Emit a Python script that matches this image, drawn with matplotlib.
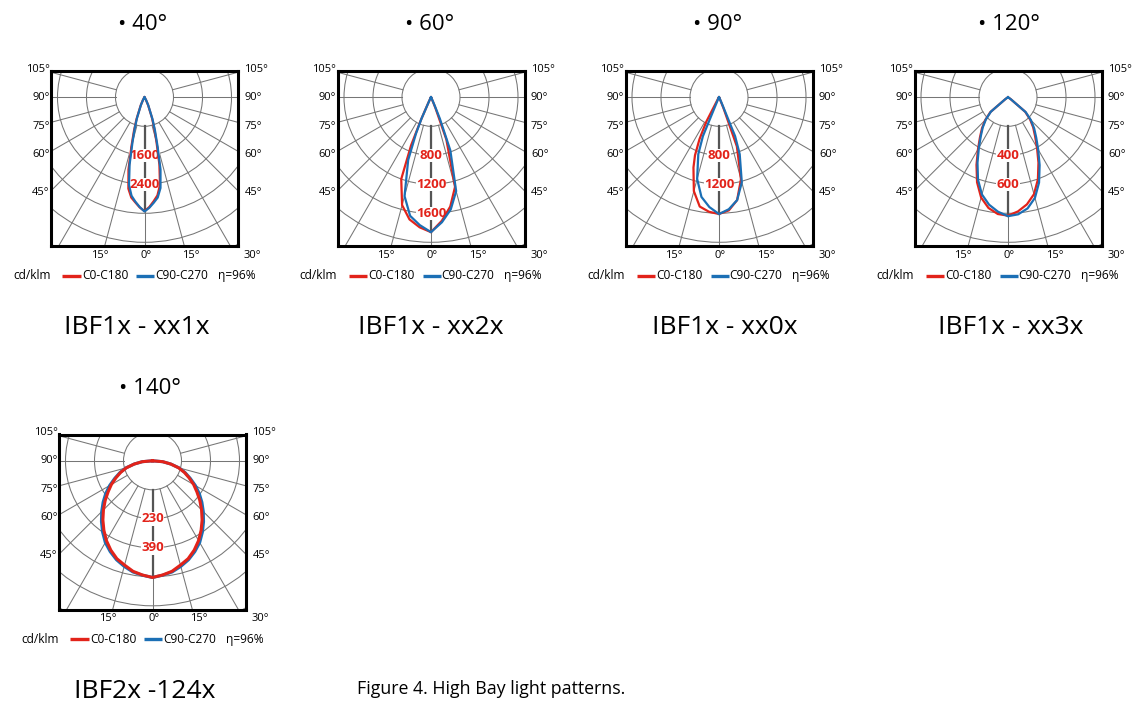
import numpy as np
import matplotlib.pyplot as plt
from matplotlib.patches import Circle

plt.rcParams['font.family'] = ['Open Sans', 'DejaVu Sans']

# =========================
# DATA  (cd/klm, half-angle from nadir, left / right half of each plane)
# =========================

P1_ANG = [0, 2.5, 5, 7.5, 10, 12.5, 15, 17.5, 20, 25, 30, 40, 90]
P1_C0_L = [3140, 3040, 2910, 2790, 2560, 2040, 1380, 960, 650, 250, 85, 15, 0]
P1_C0_R = [3140, 3030, 2880, 2730, 2460, 1900, 1280, 890, 600, 230, 75, 15, 0]
P1_C90_L = [3150, 3030, 2890, 2740, 2460, 1900, 1280, 890, 600, 230, 75, 15, 0]
P1_C90_R = [3150, 3050, 2920, 2790, 2540, 2040, 1380, 960, 650, 250, 85, 15, 0]
P1_STEP = 800
P1_RINGS = ["1600", "2400"]

P2_ANG = [0, 5, 10, 15, 20, 22.5, 24, 26, 30, 40, 90]
P2_C0_L = [1860, 1800, 1710, 1540, 1200, 720, 340, 80, 20, 8, 0]
P2_C0_R = [1860, 1710, 1530, 1280, 620, 160, 60, 20, 8, 4, 0]
P2_C90_L = [1860, 1770, 1660, 1410, 920, 540, 320, 60, 20, 8, 0]
P2_C90_R = [1860, 1730, 1570, 1340, 780, 320, 120, 40, 16, 8, 0]
P2_STEP = 400
P2_RINGS = ["800", "1200", "1600"]

P3_ANG = [0, 5, 10, 15, 20, 22.5, 25, 27.5, 30, 40, 90]
P3_C0_L = [1610, 1585, 1530, 1340, 1030, 865, 635, 380, 50, 12, 0]
P3_C0_R = [1610, 1565, 1440, 1170, 720, 160, 40, 20, 10, 4, 0]
P3_C90_L = [1610, 1520, 1395, 1165, 835, 580, 40, 30, 15, 4, 0]
P3_C90_R = [1610, 1550, 1440, 1215, 835, 580, 80, 30, 15, 4, 0]
P3_STEP = 400
P3_RINGS = ["800", "1200"]

P4_ANG = [0, 5, 10, 15, 20, 25, 30, 35, 40, 45, 50, 55, 60, 90]
P4_C0_L = [816, 808, 775, 716, 624, 514, 414, 337, 279, 222, 159, 24, 8, 0]
P4_C0_R = [816, 790, 750, 692, 603, 497, 400, 325, 270, 215, 154, 24, 8, 0]
P4_C90_L = [820, 792, 752, 694, 605, 498, 402, 327, 271, 216, 154, 24, 8, 0]
P4_C90_R = [820, 810, 778, 718, 626, 516, 416, 339, 281, 224, 160, 26, 8, 0]
P4_STEP = 200
P4_RINGS = ["400", "600"]

P5_ANG = [0, 5, 10, 15, 20, 25, 30, 35, 40, 45, 50, 55, 60, 65, 70, 75, 80, 85, 90]
P5_C0_L = [523, 514, 503, 484, 467, 442, 413, 380, 346, 311, 277, 243, 213, 181, 152, 121, 83, 46, 0]
P5_C0_R = P5_C0_L  # symmetric
P5_C90_L = [523, 515, 506, 490, 472, 449, 423, 390, 356, 322, 289, 256, 222, 187, 156, 124, 83, 46, 0]
P5_C90_R = P5_C90_L
P5_STEP = 130
P5_RINGS = ["230", "390"]

BEAMS = ["• 40°", "• 60°", "• 90°", "• 120°", "• 140°"]
MODELS = ["IBF1x - xx1x", "IBF1x - xx2x", "IBF1x - xx0x", "IBF1x - xx3x", "IBF2x -124x"]

SIDE_LABELS = ["105°", "90°", "75°", "60°", "45°"]
BOTTOM_LABELS = ["15°", "0°", "15°", "30°"]
LEGEND = ["cd/klm", "C0-C180", "C90-C270", "η=96%"]
CAPTION = "Figure 4. High Bay light patterns."

# =========================
# STYLE / LAYOUT
# =========================

W, H = 1133, 704
UNIT = 29.0          # px per ring
BOX_W, BOX_H = 187, 175
TOP_GAP = 26.3       # px from box top to pole
RED = "#e2231a"
BLUE = "#1b6fb5"
GRID = "#767676"

fig = plt.figure(figsize=(W / 100, H / 100), dpi=100)


def half_to_xy(angles, left, right, step):
    a = np.radians(angles)
    l = np.asarray(left, float) / step
    r = np.asarray(right, float) / step
    x = np.concatenate([(-l * np.sin(a))[::-1], r * np.sin(a)])
    y = np.concatenate([(-l * np.cos(a))[::-1], -r * np.cos(a)])
    return x, y


def draw_panel(left, top, angles, c0, c90, step, rings, red_on_top=False, lw=1.6):
    ax = fig.add_axes([left / W, 1 - (top + BOX_H) / H, BOX_W / W, BOX_H / H])
    hw = BOX_W / 2 / UNIT
    ax.set_xlim(-hw, hw)
    ax.set_ylim(-(BOX_H - TOP_GAP) / UNIT, TOP_GAP / UNIT)
    ax.set_xticks([])
    ax.set_yticks([])
    for s in ax.spines.values():
        s.set_linewidth(2.2)
        s.set_zorder(10)

    # grid
    for r in range(1, 8):
        ax.add_patch(Circle((0, 0), r, fill=False, ec=GRID, lw=0.75, zorder=1))
    for a in range(-105, 106, 15):
        t = np.radians(a)
        ax.plot([np.sin(t), 9 * np.sin(t)], [-np.cos(t), -9 * np.cos(t)],
                color=GRID, lw=0.75, zorder=1)
    ax.plot([0, 0], [-1, -c0[0][0] / step], color="#555555", lw=1.6, zorder=2)

    for i, lab in enumerate(rings):
        ax.text(0, -(i + 2), lab, color=RED, fontsize=9.5, fontweight="bold",
                ha="center", va="center", zorder=3,
                bbox=dict(fc="white", ec="none", pad=0.2))

    x0, y0 = half_to_xy(angles, c0[0], c0[1], step)
    x9, y9 = half_to_xy(angles, c90[0], c90[1], step)
    ax.plot(x0, y0, color=RED, lw=lw, zorder=5 if red_on_top else 4)
    ax.plot(x9, y9, color=BLUE, lw=lw, zorder=4 if red_on_top else 5)

    # angle labels
    side_y = [0.97, 0, -1.0, -1.97, -3.28]
    for lab, yy in zip(SIDE_LABELS, side_y):
        ax.text(-hw - 0.05, yy, lab, ha="right", va="center", fontsize=8, clip_on=False)
        ax.text(hw + 0.22, yy, lab, ha="left", va="center", fontsize=8, clip_on=False)
    for lab, xx in zip(BOTTOM_LABELS, [-1.55, 0.05, 1.6, 3.72]):
        ax.text(xx, -5.45, lab, ha="center", va="center", fontsize=8, clip_on=False)

    # legend row
    ly = -6.16
    ax.text(-4.53, ly, LEGEND[0], ha="left", va="center", fontsize=8.6, clip_on=False)
    ax.plot([-2.83, -2.19], [ly, ly], color=RED, lw=2.4, clip_on=False, solid_capstyle="butt")
    ax.text(-2.15, ly, LEGEND[1], ha="left", va="center", fontsize=8.6, clip_on=False)
    ax.plot([-0.29, 0.33], [ly, ly], color=BLUE, lw=2.4, clip_on=False, solid_capstyle="butt")
    ax.text(0.36, ly, LEGEND[2], ha="left", va="center", fontsize=8.6, clip_on=False)
    ax.text(2.53, ly, LEGEND[3], ha="left", va="center", fontsize=8.6, clip_on=False)
    return ax


# =========================
# PANELS
# =========================

draw_panel(51, 71, P1_ANG, (P1_C0_L, P1_C0_R), (P1_C90_L, P1_C90_R), P1_STEP, P1_RINGS)
draw_panel(337.5, 71, P2_ANG, (P2_C0_L, P2_C0_R), (P2_C90_L, P2_C90_R), P2_STEP, P2_RINGS)
draw_panel(625.5, 71, P3_ANG, (P3_C0_L, P3_C0_R), (P3_C90_L, P3_C90_R), P3_STEP, P3_RINGS)
draw_panel(914.5, 71, P4_ANG, (P4_C0_L, P4_C0_R), (P4_C90_L, P4_C90_R), P4_STEP, P4_RINGS)
draw_panel(59, 434.5, P5_ANG, (P5_C0_L, P5_C0_R), (P5_C90_L, P5_C90_R), P5_STEP, P5_RINGS,
           red_on_top=True, lw=2.2)

# =========================
# TEXT
# =========================

beam_pos = [(143, 25), (430, 25), (718, 25), (1009, 25), (150, 388)]
model_pos = [(137, 328), (431, 328), (725, 328), (1011, 328), (145, 692)]

for s, (x, y) in zip(BEAMS, beam_pos):
    fig.text(x / W, 1 - y / H, s, ha="center", va="center", fontsize=16)
for s, (x, y) in zip(MODELS, model_pos):
    fig.text(x / W, 1 - y / H, s, ha="center", va="center", fontsize=19)

fig.text(357 / W, 1 - 689 / H, CAPTION, ha="left", va="center", fontsize=12.8)

fig.savefig("out.png", dpi=100)
